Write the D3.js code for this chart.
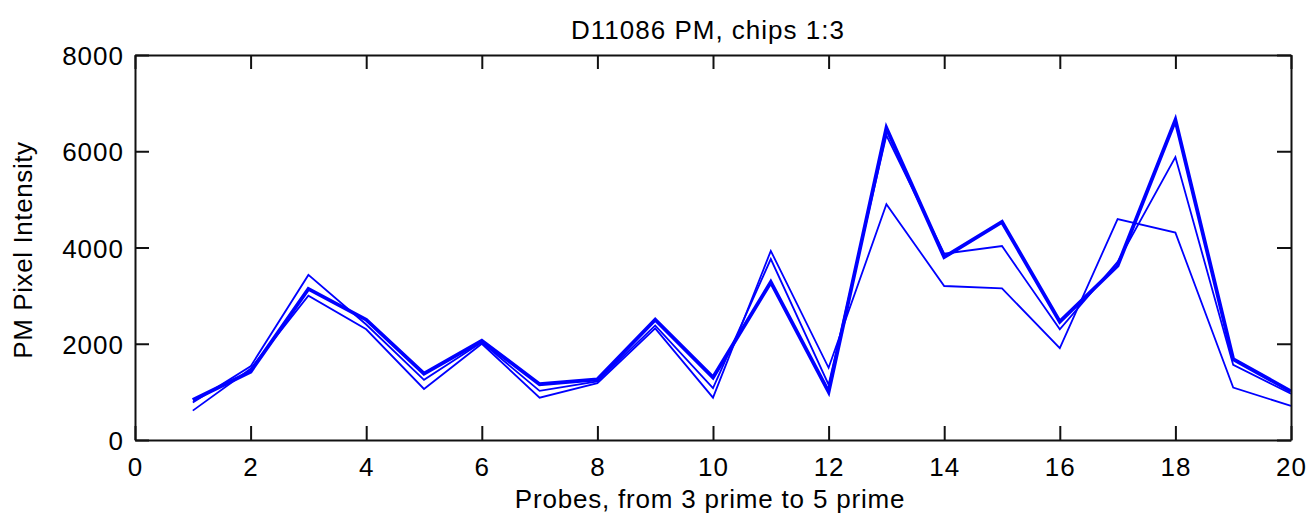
<!DOCTYPE html>
<html>
<head>
<meta charset="utf-8">
<script src="https://cdn.jsdelivr.net/npm/d3@7"></script>
<style>
  html, body { margin: 0; padding: 0; background: #fff; }
  svg text { font-family: "Liberation Sans", Arial, Helvetica, sans-serif; fill: #000; }
</style>
</head>
<body>
<svg id="chart" width="1308" height="518"></svg>
<script>
// ---- data ----
const title = "D11086 PM, chips 1:3";
const xLabel = "Probes, from 3 prime to 5 prime";
const yLabel = "PM Pixel Intensity";
const probes = [1,2,3,4,5,6,7,8,9,10,11,12,13,14,15,16,17,18,19,20];
const chip1 = [830,1420,3140,2500,1380,2060,1160,1260,2500,1300,3280,1000,6480,3800,4530,2460,3620,6650,1680,1010];
const chip2 = [780,1530,3430,2400,1250,2030,1020,1220,2380,1080,3760,1150,6330,3870,4030,2300,3700,5880,1560,960];
const chip3 = [610,1480,3000,2300,1060,2000,880,1180,2320,880,3930,1500,4900,3200,3150,1910,4590,4310,1090,710];
const xTicks = [0,2,4,6,8,10,12,14,16,18,20];
const yTicks = [0,2000,4000,6000,8000];

(function () {
  // ---- layout ----
  const svg = d3.select("#chart");
  const L = 135, R = 1291, T = 55, B = 440;
  const x = d3.scaleLinear().domain([0, 20]).range([L, R]);
  const y = d3.scaleLinear().domain([0, 8000]).range([B, T]);
  const tickLen = 14;
  const fs = 26;

  // series lines
  const line = d3.line().x((d, i) => x(probes[i])).y(d => y(d));
  const series = [
    { values: chip3, width: 1.8 },
    { values: chip2, width: 1.8 },
    { values: chip1, width: 3.8 }
  ];
  svg.append("g").selectAll("path").data(series).join("path")
    .attr("d", d => line(d.values))
    .attr("fill", "none")
    .attr("stroke", "#0000ff")
    .attr("stroke-width", d => d.width)
    .attr("stroke-linejoin", "miter");

  // axes (MATLAB-style box with inward ticks)
  const axBottom = d3.axisBottom(x).tickValues(xTicks).tickSizeInner(-tickLen).tickSizeOuter(0).tickFormat(d3.format("d"));
  const axTop = d3.axisTop(x).tickValues(xTicks).tickSizeInner(-tickLen).tickSizeOuter(0).tickFormat("");
  const axLeft = d3.axisLeft(y).tickValues(yTicks).tickSizeInner(-tickLen).tickSizeOuter(0).tickFormat(d3.format("d"));
  const axRight = d3.axisRight(y).tickValues(yTicks).tickSizeInner(-tickLen).tickSizeOuter(0).tickFormat("");

  function style(g) {
    g.select(".domain").attr("stroke", "#111").attr("stroke-width", 2);
    g.selectAll(".tick line").attr("stroke", "#111").attr("stroke-width", 2);
    g.selectAll(".tick text").attr("font-size", fs).attr("letter-spacing", "1px")
      .attr("font-family", "'Liberation Sans', Arial, sans-serif").attr("fill", "#000");
  }
  const gB = svg.append("g").attr("transform", `translate(0,${B})`).call(axBottom).call(style);
  gB.selectAll(".tick text").attr("y", 35.5).attr("dy", 0);
  svg.append("g").attr("transform", `translate(0,${T})`).call(axTop).call(style);
  const gL = svg.append("g").attr("transform", `translate(${L},0)`).call(axLeft).call(style);
  gL.selectAll(".tick text").attr("x", -(L - 124)).attr("dy", 0).attr("y", 9.5);
  svg.append("g").attr("transform", `translate(${R},0)`).call(axRight).call(style);

  // titles
  svg.append("text").attr("x", 708).attr("y", 38.5).attr("text-anchor", "middle")
    .attr("font-size", fs).attr("letter-spacing", "1px").text(title);
  svg.append("text").attr("x", 710).attr("y", 508).attr("text-anchor", "middle")
    .attr("font-size", fs).attr("letter-spacing", "0.8px").text(xLabel);
  svg.append("text").attr("transform", "translate(31.5,250) rotate(-90)").attr("text-anchor", "middle")
    .attr("font-size", fs).attr("letter-spacing", "0.6px").text(yLabel);
})();
</script>
</body>
</html>
